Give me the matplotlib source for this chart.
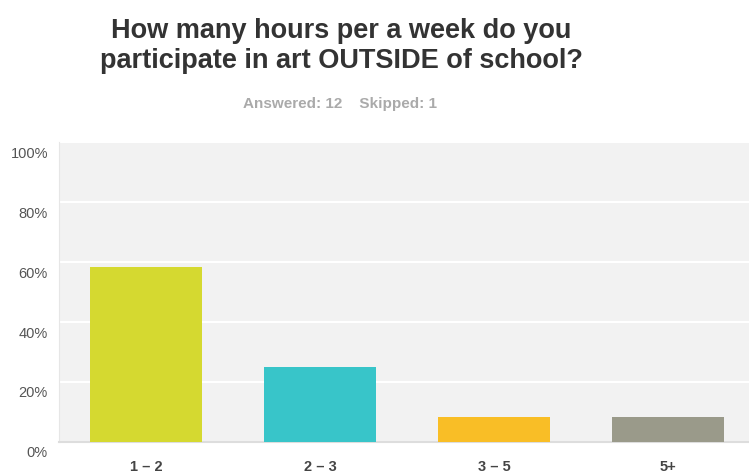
import matplotlib.pyplot as plt
import matplotlib.transforms as mtransforms

plt.rcParams['font.family'] = ['Liberation Sans', 'DejaVu Sans']

categories = ["1 \u2013 2", "2 \u2013 3", "3 \u2013 5", "5+"]
percent = [58.33, 25.0, 8.33, 8.33]
bar_colors = ["#D5D930", "#38C5C9", "#F9BE26", "#9A9A8A"]
yticks = [0, 20, 40, 60, 80, 100]
ytick_labels = ["0%", "20%", "40%", "60%", "80%", "100%"]

fig = plt.figure(figsize=(7.49, 4.77), dpi=100)
W, H = 749, 477
ax = fig.add_axes([59 / W, (H - 443) / H, (W - 59) / W, 300 / H])
ax.set_facecolor("#f2f2f2")

x = list(range(len(categories)))
ax.bar(x, percent, width=0.644, color=bar_colors, zorder=3)

ax.set_xlim(-0.5, 3.465)
ax.set_ylim(0, 100)
ax.set_yticks(yticks)
ax.set_yticklabels(ytick_labels)
ax.set_xticks(x)
ax.set_xticklabels(categories, fontweight="bold")
ax.grid(axis="y", color="white", linewidth=1.5, zorder=1)
ax.tick_params(length=0)
ax.tick_params(axis="x", pad=12, labelsize=10.5, labelcolor="#444444")
ax.tick_params(axis="y", pad=8, labelsize=10.5, labelcolor="#555555")

# y labels sit just under their grid line
offset = mtransforms.ScaledTranslation(0, -9 / 100, fig.dpi_scale_trans)
for lab in ax.get_yticklabels():
    lab.set_transform(lab.get_transform() + offset)

for side in ["top", "right"]:
    ax.spines[side].set_visible(False)
ax.spines["left"].set_color("#e6e6e6")
ax.spines["bottom"].set_color("#dddddd")
ax.spines["bottom"].set_linewidth(1.5)

fig.text(341 / W, 1 - 46 / H, "How many hours per a week do you\nparticipate in art OUTSIDE of school?",
         ha="center", va="center", fontsize=19.5, fontweight="bold", color="#333333",
         linespacing=1.25)
fig.text(340 / W, 1 - 104 / H, "Answered: 12    Skipped: 1", ha="center", va="center",
         fontsize=11, fontweight="bold", color="#aaaaaa")

fig.savefig("out.png", dpi=100)
